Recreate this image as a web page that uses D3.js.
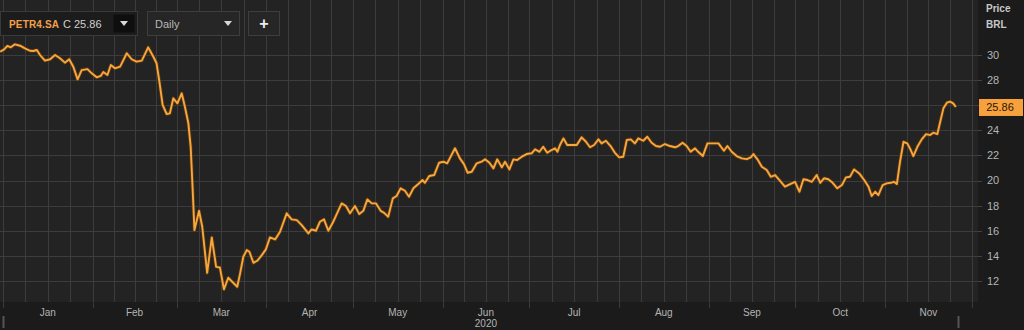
<!DOCTYPE html>
<html>
<head>
<meta charset="utf-8">
<script src="https://cdn.jsdelivr.net/npm/d3@7"></script>
<style>
  body { margin: 0; background: #1b1b1b; }
  svg { display: block; font-family: "Liberation Sans", Arial, sans-serif; }
</style>
</head>
<body>
<div class="chart-box"></div>
<script>
// days since 2020-01-01 (calendar)
let days = [-1.0, 0.4, 1.5, 2.7, 4.1, 5.9, 7.6, 9.3, 10.5, 11.7, 12.8, 14.5, 16.3, 18.0, 19.7, 21.4, 22.9, 24.3, 25.8, 27.2,
  29.2, 30.7, 32.4, 33.8, 34.7, 36.1, 37.3, 38.7, 40.5, 42.8, 44.5, 46.2, 48.0, 50.2, 52.0, 53.1, 54.0, 55.2, 56.6, 57.7,
  58.9, 60.3, 61.8, 62.9, 64.1, 64.9, 65.6, 66.2, 67.8, 68.9, 70.6, 72.2, 73.7, 75.0, 76.4, 77.9, 79.6, 81.0, 82.0, 83.1,
  84.3, 85.2, 86.6, 87.9, 89.5, 90.9, 92.3, 94.1, 95.8, 98.1, 99.8, 101.6, 103.3, 105.6, 106.7, 108.2, 109.6, 111.0, 112.5, 114.2,
  115.6, 117.1, 118.6, 120.0, 121.7, 123.2, 124.6, 126.0, 127.5, 129.0, 130.6, 131.8, 133.2, 134.8, 136.1, 137.5, 139.0, 140.4, 141.9, 143.6,
  145.1, 145.9, 147.4, 149.1, 150.8, 152.3, 153.6, 156.3, 158.0, 159.4, 160.7, 162.1, 163.8, 165.5, 166.7, 168.2, 169.6, 170.9, 172.5, 173.6,
  175.1, 176.5, 177.8, 179.4, 181.1, 182.8, 184.0, 185.5, 186.8, 188.2, 189.7, 190.9, 191.7, 192.6, 193.8, 195.1, 197.2, 198.4, 200.1, 201.6,
  203.0, 204.4, 205.9, 207.0, 208.5, 210.1, 211.6, 213.1, 214.5, 215.7, 217.1, 218.5, 219.7, 221.4, 222.8, 224.3, 225.8, 227.2, 228.9, 230.6,
  232.4, 233.5, 235.0, 236.4, 237.8, 239.3, 240.4, 242.0, 243.6, 245.6, 247.4, 249.3, 250.5, 252.0, 253.7, 255.5, 257.2, 258.6, 259.5, 260.9,
  262.4, 264.1, 265.5, 267.0, 268.5, 270.4, 272.2, 273.9, 275.4, 276.8, 278.2, 279.7, 281.4, 282.6, 283.9, 285.4, 286.9, 288.5, 290.1, 291.5,
  292.9, 294.3, 296.1, 297.8, 299.3, 300.4, 301.6, 302.7, 304.2, 305.6, 307.0, 308.1, 309.1, 310.2, 311.4, 312.7, 313.9, 314.8, 316.2, 317.7,
  319.2, 320.6, 321.7, 323.1, 324.1, 325.2, 326.4, 327.5, 328.6, 329.5];

// PETR4.SA close, BRL
let prices = [30.26, 30.45, 30.72, 30.61, 30.85, 30.74, 30.53, 30.34, 30.32, 30.40, 30.00, 29.55, 29.66, 30.00, 29.74, 29.39, 29.66, 29.07, 28.06, 28.80,
  28.88, 28.54, 28.22, 28.33, 28.65, 28.41, 29.20, 28.94, 29.07, 30.14, 29.66, 29.47, 29.55, 30.61, 29.86, 29.34, 28.01, 26.02, 25.30, 25.35,
  26.55, 26.15, 26.95, 25.88, 24.56, 22.69, 19.24, 16.05, 17.59, 16.32, 12.65, 15.47, 13.13, 13.08, 11.33, 12.26, 11.86, 11.54, 12.61, 13.93,
  14.46, 14.33, 13.45, 13.61, 14.06, 14.52, 15.47, 15.31, 15.92, 17.39, 16.91, 16.85, 16.45, 15.79, 16.11, 16.00, 16.72, 16.91, 16.00, 16.72,
  17.43, 18.18, 17.97, 17.39, 17.97, 17.33, 17.59, 18.50, 18.18, 18.18, 17.59, 17.43, 17.12, 18.58, 18.77, 19.38, 19.19, 18.71, 19.38, 19.72,
  20.04, 19.82, 20.36, 20.44, 21.42, 21.50, 21.37, 22.57, 21.77, 21.31, 20.62, 20.70, 21.37, 21.50, 21.69, 21.42, 20.97, 21.69, 21.05, 21.50,
  20.89, 21.69, 21.63, 21.90, 22.11, 22.17, 22.49, 22.29, 22.69, 22.21, 22.43, 22.57, 22.29, 22.83, 23.36, 22.83, 22.83, 22.83, 23.44, 23.09,
  22.65, 22.83, 23.28, 22.96, 23.17, 22.75, 22.21, 21.85, 21.90, 23.23, 23.28, 22.96, 23.36, 23.17, 23.49, 23.01, 22.75, 22.69, 22.91, 22.75,
  22.65, 22.75, 23.01, 22.75, 22.29, 22.57, 22.29, 21.95, 22.96, 22.96, 22.96, 22.37, 22.75, 22.29, 21.95, 21.77, 21.71, 21.85, 22.11, 21.69,
  21.10, 20.84, 20.30, 20.44, 20.04, 19.51, 19.72, 19.90, 19.11, 20.10, 20.04, 19.90, 20.44, 19.82, 20.18, 20.10, 19.82, 19.38, 19.64, 20.25,
  20.30, 20.89, 20.57, 20.04, 19.51, 18.77, 19.11, 18.84, 19.64, 19.78, 19.82, 19.90, 19.72, 21.50, 23.09, 22.96, 22.43, 21.95, 22.69, 23.28,
  23.70, 23.62, 23.81, 23.70, 24.69, 25.75, 26.20, 26.28, 26.15, 25.86];

let yTicks = [12, 14, 16, 18, 20, 22, 24, 26, 28, 30];
let monthLabels = ["Jan", "Feb", "Mar", "Apr", "May", "Jun", "Jul", "Aug", "Sep", "Oct", "Nov"];
let ticker = "PETR4.SA";
let lastClose = 25.86;
let interval = "Daily";

let width = 1024, height = 330;
let plotRight = 978, plotBottom = 302;

let svg = d3.select(".chart-box")
  .append("svg")
  .attr("width", width)
  .attr("height", height)
  .style("background", "#1b1b1b");

let day0 = Date.UTC(2020, 0, 1);
let toDate = function (d) { return new Date(day0 + d * 864e5); };

let x = d3.scaleUtc()
  .domain([toDate(0), new Date(Date.UTC(2020, 10, 1))])
  .range([3, 885]);

let y = d3.scaleLinear()
  .domain([12, 30])
  .range([281, 55]);

// plot background
svg.append("rect")
  .attr("x", 0).attr("y", 0)
  .attr("width", plotRight).attr("height", plotBottom)
  .attr("fill", "#232323");

svg.append("clipPath").attr("id", "plot-clip")
  .append("rect").attr("x", 0).attr("y", 0).attr("width", plotRight).attr("height", plotBottom);

// vertical grid: month starts + quarter subdivisions
let months = d3.utcMonth.range(new Date(Date.UTC(2019, 11, 1)), new Date(Date.UTC(2021, 0, 1)));
let vLines = [];
months.forEach(function (m) {
  let a = x(m), b = x(d3.utcMonth.offset(m, 1));
  for (let k = 0; k < 4; k++) vLines.push(a + (b - a) * k / 4);
});

let grid = svg.append("g").attr("clip-path", "url(#plot-clip)");
grid.selectAll("line.v")
  .data(vLines.filter(function (v) { return v >= 0 && v <= plotRight; }))
  .enter()
  .append("line")
  .attr("class", "v")
  .attr("x1", function (d) { return Math.round(d) + 0.5; })
  .attr("x2", function (d) { return Math.round(d) + 0.5; })
  .attr("y1", 0).attr("y2", plotBottom)
  .attr("stroke", "#3c3c3c");

grid.selectAll("line.h")
  .data(yTicks)
  .enter()
  .append("line")
  .attr("class", "h")
  .attr("x1", 0).attr("x2", plotRight)
  .attr("y1", function (d) { return Math.round(y(d)) + 0.5; })
  .attr("y2", function (d) { return Math.round(y(d)) + 0.5; })
  .attr("stroke", "#3c3c3c");

// price line
let points = days.map(function (d, i) { return [toDate(d), prices[i]]; });
let line = d3.line()
  .x(function (d) { return x(d[0]); })
  .y(function (d) { return y(d[1]); });

let lines = svg.append("g").attr("clip-path", "url(#plot-clip)");
lines.append("path")
  .datum(points)
  .attr("d", line)
  .attr("fill", "none")
  .attr("stroke", "#6b3d0c")
  .attr("stroke-width", 3.6)
  .attr("stroke-linejoin", "round")
  .attr("opacity", 0.7);
lines.append("path")
  .datum(points)
  .attr("d", line)
  .attr("fill", "none")
  .attr("stroke", "#f7a73f")
  .attr("stroke-width", 1.9)
  .attr("stroke-linejoin", "round");

// right axis panel
svg.append("rect")
  .attr("x", plotRight).attr("y", 0)
  .attr("width", width - plotRight).attr("height", height)
  .attr("fill", "#1b1b1b");

let yAxis = svg.append("g").attr("transform", "translate(" + plotRight + ",0)");
yAxis.selectAll("line")
  .data(yTicks)
  .enter()
  .append("line")
  .attr("x1", 0).attr("x2", 4)
  .attr("y1", function (d) { return Math.round(y(d)) + 0.5; })
  .attr("y2", function (d) { return Math.round(y(d)) + 0.5; })
  .attr("stroke", "#444");
yAxis.selectAll("text")
  .data(yTicks.filter(function (d) { return d !== 26; }))
  .enter()
  .append("text")
  .attr("x", 9)
  .attr("y", function (d) { return y(d); })
  .attr("dy", "0.35em")
  .attr("fill", "#b4b4b4")
  .style("font-size", "11px")
  .text(function (d) { return d; });

yAxis.append("text").attr("x", 8).attr("y", 12)
  .attr("fill", "#c8c8c8").style("font-size", "10px").style("font-weight", "bold").text("Price");
yAxis.append("text").attr("x", 8).attr("y", 28)
  .attr("fill", "#c8c8c8").style("font-size", "10px").style("font-weight", "bold").text("BRL");

// last price tag
yAxis.append("rect")
  .attr("x", 1).attr("y", y(lastClose) - 8)
  .attr("width", 44).attr("height", 17)
  .attr("fill", "#f7a13e");
yAxis.append("text")
  .attr("x", 22).attr("y", y(lastClose))
  .attr("dy", "0.36em")
  .attr("text-anchor", "middle")
  .attr("fill", "#2a1600")
  .style("font-size", "11px")
  .text(lastClose.toFixed(2));

// bottom axis band
svg.append("rect")
  .attr("x", 0).attr("y", plotBottom)
  .attr("width", plotRight).attr("height", height - plotBottom)
  .attr("fill", "#1b1b1b");

let monthStarts = d3.utcMonth.range(new Date(Date.UTC(2020, 0, 1)), new Date(Date.UTC(2020, 11, 2)));
let xAxis = svg.append("g");
xAxis.selectAll("line")
  .data(monthStarts)
  .enter()
  .append("line")
  .attr("x1", function (d) { return Math.round(x(d)) + 0.5; })
  .attr("x2", function (d) { return Math.round(x(d)) + 0.5; })
  .attr("y1", plotBottom).attr("y2", plotBottom + 6)
  .attr("stroke", "#3a3a3a");
xAxis.selectAll("text")
  .data(monthStarts.slice(0, monthLabels.length))
  .enter()
  .append("text")
  .attr("x", function (d) { return (x(d) + x(d3.utcMonth.offset(d, 1))) / 2; })
  .attr("y", 316)
  .attr("text-anchor", "middle")
  .attr("fill", "#b4b4b4")
  .style("font-size", "10px")
  .text(function (d, i) { return monthLabels[i]; });
xAxis.append("text")
  .attr("x", (x(monthStarts[5]) + x(monthStarts[6])) / 2)
  .attr("y", 327)
  .attr("text-anchor", "middle")
  .attr("fill", "#b4b4b4")
  .style("font-size", "10px")
  .text("2020");

// navigator handles
[3, 958].forEach(function (h) {
  svg.append("line")
    .attr("x1", h + 0.5).attr("x2", h + 0.5)
    .attr("y1", 316).attr("y2", 328)
    .attr("stroke", "#555").attr("stroke-width", 2);
});

// toolbar
let bar = svg.append("g");
bar.append("rect").attr("x", 0.5).attr("y", 11.5).attr("width", 137).attr("height", 24)
  .attr("fill", "#1c1c1c").attr("stroke", "#3a3a3a");
bar.append("text").attr("x", 9).attr("y", 28)
  .attr("fill", "#f2a04a").style("font-size", "10px").style("font-weight", "bold")
  .attr("textLength", 50).text(ticker);
bar.append("text").attr("x", 63).attr("y", 28)
  .attr("fill", "#cfcfcf").style("font-size", "11px").text("C " + lastClose.toFixed(2));
bar.append("rect").attr("x", 113.5).attr("y", 14.5).attr("width", 21).attr("height", 18)
  .attr("fill", "#0e0e0e");
bar.append("path").attr("d", "M120,21 L128,21 L124,26 Z").attr("fill", "#d8d8d8");

bar.append("rect").attr("x", 147.5).attr("y", 11.5).attr("width", 92).attr("height", 24)
  .attr("fill", "#262626").attr("stroke", "#3e3e3e");
bar.append("text").attr("x", 155).attr("y", 28)
  .attr("fill", "#b8b8b8").style("font-size", "11px").text(interval);
bar.append("path").attr("d", "M224,21 L232,21 L228,26 Z").attr("fill", "#d8d8d8");

bar.append("rect").attr("x", 248.5).attr("y", 11.5).attr("width", 31).attr("height", 24)
  .attr("fill", "#262626").attr("stroke", "#3e3e3e");
bar.append("text").attr("x", 264).attr("y", 29).attr("text-anchor", "middle")
  .attr("fill", "#eeeeee").style("font-size", "16px").style("font-weight", "bold").text("+");
</script>
</body>
</html>
